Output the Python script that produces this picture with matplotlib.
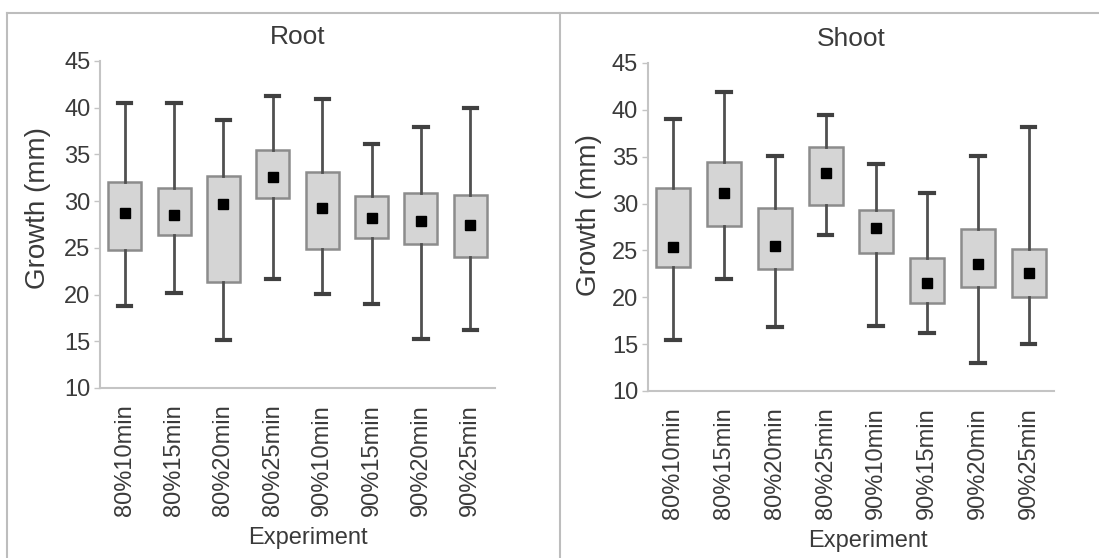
import matplotlib
matplotlib.use('Agg')
import matplotlib.pyplot as plt
from matplotlib.lines import Line2D

plt.rcParams['font.family'] = ['Liberation Sans', 'DejaVu Sans']

experiments = ['80%10min', '80%15min', '80%20min', '80%25min',
               '90%10min', '90%15min', '90%20min', '90%25min']

# Root growth (mm): whisker low, q1, mean, q3, whisker high
root_lo = [18.8, 20.2, 15.1, 21.7, 20.1, 19.0, 15.2, 16.2]
root_q1 = [24.8, 26.4, 21.3, 30.3, 24.9, 26.0, 25.4, 24.0]
root_mean = [28.7, 28.5, 29.7, 32.6, 29.3, 28.2, 27.9, 27.4]
root_q3 = [32.1, 31.4, 32.7, 35.5, 33.1, 30.5, 30.9, 30.7]
root_hi = [40.5, 40.5, 38.7, 41.2, 40.9, 36.1, 37.9, 40.0]

# Shoot growth (mm)
shoot_lo = [15.4, 22.0, 16.8, 26.6, 16.9, 16.2, 13.0, 15.0]
shoot_q1 = [23.2, 27.6, 23.0, 29.9, 24.7, 19.4, 21.1, 20.0]
shoot_mean = [25.4, 31.1, 25.5, 33.3, 27.4, 21.5, 23.6, 22.6]
shoot_q3 = [31.7, 34.4, 29.5, 36.0, 29.3, 24.2, 27.3, 25.2]
shoot_hi = [39.0, 41.9, 35.1, 39.4, 34.2, 31.1, 35.1, 38.2]

text_col = '#3a3a3a'
axis_col = '#c4c4c4'

fig = plt.figure(figsize=(10.99, 5.58), dpi=100)


def draw_panel(rect, title, lo, q1, mean, q3, hi, ylab_x, ylab_y, xlab_x):
    ax = fig.add_axes(rect)
    stats = []
    for i in range(len(experiments)):
        stats.append({'whislo': lo[i], 'q1': q1[i], 'med': mean[i], 'q3': q3[i],
                      'whishi': hi[i], 'mean': mean[i], 'fliers': []})
    ax.bxp(stats, positions=range(1, len(experiments) + 1), widths=0.67,
           patch_artist=True, showmeans=True, showfliers=False,
           boxprops=dict(facecolor='#d5d5d5', edgecolor='#8c8c8c', linewidth=1.8),
           whiskerprops=dict(color='#505050', linewidth=2),
           capprops=dict(color='#404040', linewidth=3),
           capwidths=0.27,
           medianprops=dict(linewidth=0),
           meanprops=dict(marker='s', markerfacecolor='black',
                          markeredgecolor='black', markersize=6.5))
    ax.set_xlim(0.5, 8.5)
    ax.set_ylim(10, 45)
    ax.set_yticks(range(10, 46, 5))
    ax.set_xticks(range(1, len(experiments) + 1))
    ax.set_xticklabels(experiments, rotation=90)
    for s in ['top', 'right']:
        ax.spines[s].set_visible(False)
    for s in ['left', 'bottom']:
        ax.spines[s].set_color(axis_col)
        ax.spines[s].set_linewidth(1.5)
    ax.tick_params(axis='y', colors=axis_col, length=4, width=1, pad=3,
                   labelcolor=text_col, labelsize=17)
    ax.tick_params(axis='x', length=0, pad=12, labelcolor=text_col,
                   labelsize=17)
    ax.set_title(title, fontsize=19, color=text_col, pad=12)
    ax.set_ylabel('Growth (mm)', fontsize=20, color=text_col)
    ax.yaxis.set_label_coords(ylab_x, ylab_y)
    ax.set_xlabel('Experiment', fontsize=17, color=text_col)
    ax.xaxis.set_label_coords(xlab_x, -0.425)
    return ax


draw_panel([0.091, 0.3047, 0.3594, 0.586], 'Root',
           root_lo, root_q1, root_mean, root_q3, root_hi, -0.125, 0.55, 0.527)
draw_panel([0.5896, 0.2993, 0.3694, 0.5878], 'Shoot',
           shoot_lo, shoot_q1, shoot_mean, shoot_q3, shoot_hi, -0.113, 0.537, 0.542)

# panel frame lines
frame_col = '#bdbdbd'
fig.add_artist(Line2D([7 / 1099, 1.0], [1 - 13 / 558, 1 - 13 / 558],
                      color=frame_col, linewidth=1.5, transform=fig.transFigure))
fig.add_artist(Line2D([7 / 1099, 7 / 1099], [0, 1 - 13 / 558],
                      color=frame_col, linewidth=1.5, transform=fig.transFigure))
fig.add_artist(Line2D([560 / 1099, 560 / 1099], [0, 1 - 13 / 558],
                      color=frame_col, linewidth=1.5, transform=fig.transFigure))

fig.savefig('out.png', dpi=100)
